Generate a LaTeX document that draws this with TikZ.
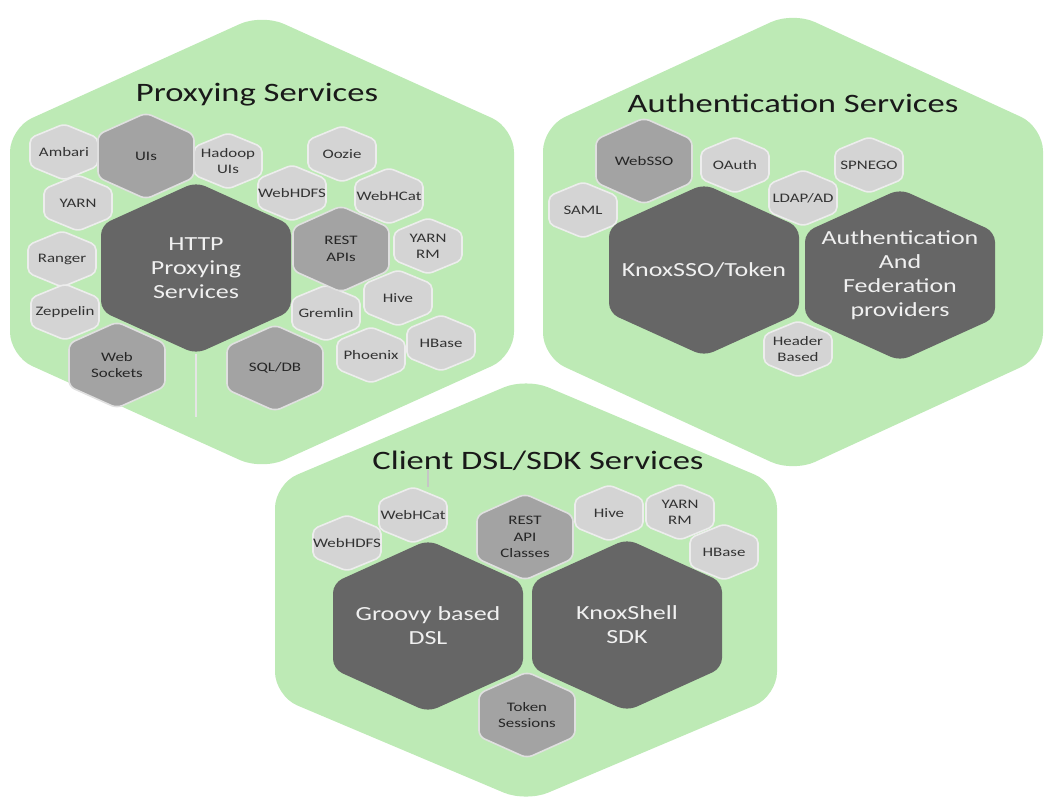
\documentclass[tikz,border=0pt]{standalone}
\usepackage{fontspec}
\setmainfont[FakeStretch=1.3]{Carlito}
\usepackage{tikz}

\definecolor{zonegreen}{RGB}{189,234,181}
\definecolor{celllight}{RGB}{212,212,212}
\definecolor{cellmid}{RGB}{163,163,163}
\definecolor{celldark}{RGB}{102,102,102}

\tikzset{
  zone/.style={fill=zonegreen, rounded corners=12pt},
  dark/.style={fill=celldark, rounded corners=5pt},
  mid/.style={fill=cellmid, draw=white!88!black, line width=0.8pt, rounded corners=3pt},
  light/.style={fill=celllight, draw=white!93!black, line width=0.8pt, rounded corners=2.5pt},
  zone text/.style={font=\fontsize{13.3}{15}\selectfont, text=black!90},
  dark text/.style={font=\fontsize{10}{12}\selectfont, text=white!94!black, align=center},
  mid text/.style={font=\fontsize{6.5}{8.3}\selectfont, text=black!85, align=center},
  light text/.style={font=\fontsize{6.5}{8}\selectfont, text=black!80, align=center},
  faint/.style={draw=white!80!gray, line width=0.6pt}
}

% hexagon outline: centre, half width, half height
\newcommand{\hexpath}[3]{(#1) ++(0,-#3) -- ++(#2,#3/2) -- ++(0,#3) -- ++(-#2,#3/2) -- ++(-#2,-#3/2) -- ++(0,-#3) -- cycle}
% filled cell plus its label node
\newcommand{\hexcell}[6]{%
  \path[#1] \hexpath{#3}{#4}{#5};
  \node[#1 text, inner sep=0pt, minimum width=#4pt, minimum height=#5pt] (#2) at (#3) {#6};
}
\newcommand{\lightcell}[3]{\hexcell{light}{#1}{#2}{34}{28}{#3}}
\newcommand{\midcell}[3]{\hexcell{mid}{#1}{#2}{48}{43}{#3}}
\newcommand{\darkcell}[3]{\hexcell{dark}{#1}{#2}{95}{86}{#3}}

\begin{document}
\begin{tikzpicture}[x=0.5pt,y=-0.5pt]
\useasboundingbox (0,0) rectangle (1044,798);
\clip (0,0) rectangle (1044,798);

% the three service zones
\path[zone] \hexpath{262,242}{252}{228};
\path[zone] \hexpath{793,242}{250}{230};
\path[zone] \hexpath{526,590}{251}{212};

\node[zone text] (proxytitle) at (257,95) {Proxying Services};
\node[zone text] (authtitle) at (793,103) {Authentication Services};
\node[zone text] (clienttitle) at (538,461) {Client DSL/SDK Services};

% main blocks
\darkcell{http}{196,268}{HTTP\\Proxying\\Services}
\darkcell{knoxsso}{704,270}{KnoxSSO/Token}
\darkcell{authfed}{900,275}{Authentication\\And\\Federation\\providers}
\darkcell{groovy}{428,626}{Groovy based\\DSL}
\darkcell{knoxshell}{627,625}{KnoxShell\\SDK}

% proxying services
\lightcell{ambari}{64,152}{Ambari}
\lightcell{hadoopuis}{228,161}{Hadoop\\UIs}
\lightcell{oozie}{342,154}{Oozie}
\lightcell{yarn}{78,203}{YARN}
\lightcell{webhdfs}{292,193}{WebHDFS}
\lightcell{webhcat}{389,196}{WebHCat}
\lightcell{yarnrm}{428,246}{YARN\\RM}
\lightcell{ranger}{62,259}{Ranger}
\lightcell{zeppelin}{65,312}{Zeppelin}
\lightcell{gremlin}{326,313}{Gremlin}
\lightcell{hive}{398,298}{Hive}
\lightcell{hbase}{441,343}{HBase}
\lightcell{phoenix}{371,355}{Phoenix}
\midcell{uis}{146,156}{UIs}
\midcell{rest}{341,249}{REST\\APIs}
\midcell{websockets}{117,365}{Web\\Sockets}
\midcell{sqldb}{275,368}{SQL/DB}

% authentication services
\lightcell{oauth}{735,165}{OAuth}
\lightcell{spnego}{869,165}{SPNEGO}
\lightcell{saml}{583,210}{SAML}
\lightcell{ldap}{803,198}{LDAP/AD}
\lightcell{header}{798,349}{Header\\Based}
\midcell{websso}{644,161}{WebSSO}

% client DSL/SDK services
\lightcell{cwebhcat}{413,515}{WebHCat}
\lightcell{cwebhdfs}{347,543}{WebHDFS}
\lightcell{chive}{609,513}{Hive}
\lightcell{cyarnrm}{680,512}{YARN\\RM}
\lightcell{chbase}{724,552}{HBase}
\midcell{restapi}{525,537}{REST\\API\\Classes}
\midcell{token}{527,715}{Token\\Sessions}

% thin leader lines
\coordinate (httptail) at (196,417);
\draw[faint] (http.south) -- (httptail);
\coordinate (clienttick) at (428,470);
\draw[faint, draw=gray!45] (clienttick) -- (clienttick |- cwebhcat.north);
\end{tikzpicture}
\end{document}
